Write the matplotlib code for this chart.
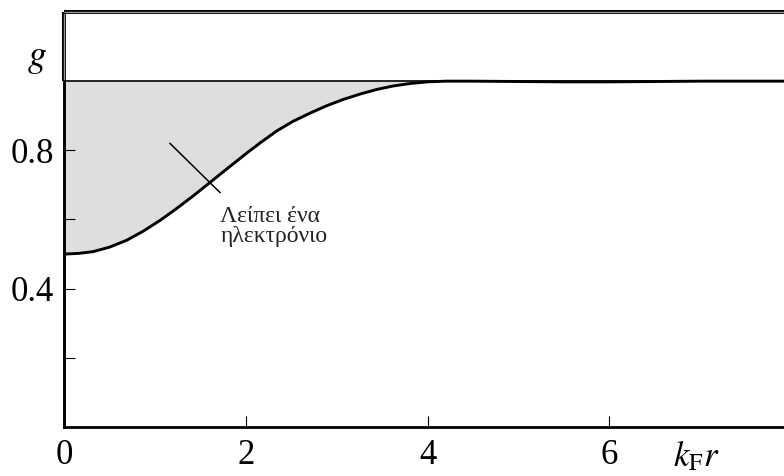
import numpy as np
import matplotlib.pyplot as plt

plt.rcParams['font.family'] = ['Liberation Serif', 'DejaVu Serif']
plt.rcParams['mathtext.fontset'] = 'stix'

# pair correlation g(k_F r) for parallel spins
kf_r = [0.0, 0.16, 0.32, 0.50, 0.69, 0.87, 1.06, 1.24, 1.42, 1.61, 1.79,
        2.01, 2.16, 2.34, 2.52, 2.71, 2.89, 3.07, 3.26, 3.44, 3.62, 3.80,
        4.00, 4.20, 4.50, 5.00, 5.50, 6.00, 6.50, 7.00, 7.50, 8.00]
g_vals = [0.500, 0.502, 0.507, 0.520, 0.540, 0.566, 0.598, 0.632, 0.668,
          0.708, 0.746, 0.792, 0.822, 0.856, 0.884, 0.908, 0.929, 0.947,
          0.963, 0.976, 0.986, 0.993, 0.998, 1.000, 1.000, 0.999, 0.998,
          0.998, 0.999, 1.000, 1.000, 1.000]

x_ticks = [0, 2, 4, 6]
y_ticks = [0.2, 0.4, 0.6, 0.8]
y_labels = ['', '0.4', '', '0.8']

fig = plt.figure(figsize=(7.84, 4.76), dpi=100)
ax = fig.add_axes([64 / 784, 49 / 476, 720 / 784, 415 / 476])
ax.set_xlim(0, 7.92)
ax.set_ylim(0, 1.2)

x = np.array(kf_r)
g = np.array(g_vals)
ax.fill_between(x, g, 1.0, color='#dedede', lw=0)
ax.axhline(1.0, color='black', lw=1.2)
ax.plot(x, g, color='black', lw=2.1, solid_capstyle='butt', solid_joinstyle='round')

# the missing electron
ax.plot([1.166, 1.716], [0.820, 0.678], color='black', lw=1.1)
ax.text(1.72, 0.58, 'Λείπει ένα\nηλεκτρόνιο', fontsize=17,
        ha='left', va='center', linespacing=0.95, color='#222222')

for side in ['top', 'right']:
    ax.spines[side].set_visible(False)
ax.spines['left'].set_bounds(0, 1)
ax.spines['left'].set_linewidth(2.1)
ax.spines['bottom'].set_linewidth(2.0)

# double-line frame above g = 1
for xs, ys in [([0, 0], [1.0, 1.2]), ([0, 7.92], [1.2, 1.2])]:
    ax.plot(xs, ys, color='black', lw=2.9, clip_on=False, solid_capstyle='butt')
    ax.plot(xs, ys, color='#999999', lw=1.0, clip_on=False, solid_capstyle='butt')

ax.set_xticks(x_ticks)
ax.set_xticklabels([str(t) for t in x_ticks])
ax.set_yticks(y_ticks)
ax.set_yticklabels(y_labels)
ax.tick_params(axis='both', direction='in', length=7.7, width=0.8,
               labelsize=25, color='black')
ax.tick_params(axis='x', pad=9)
ax.tick_params(axis='y', pad=7)

ax.text(-0.3, 1.065, '$g$', fontsize=27, ha='center', va='center')
ax.text(6.96, -0.085, r'$k_{\mathrm{F}}r$', fontsize=25, ha='center', va='center')

fig.savefig('out.png', dpi=100)
